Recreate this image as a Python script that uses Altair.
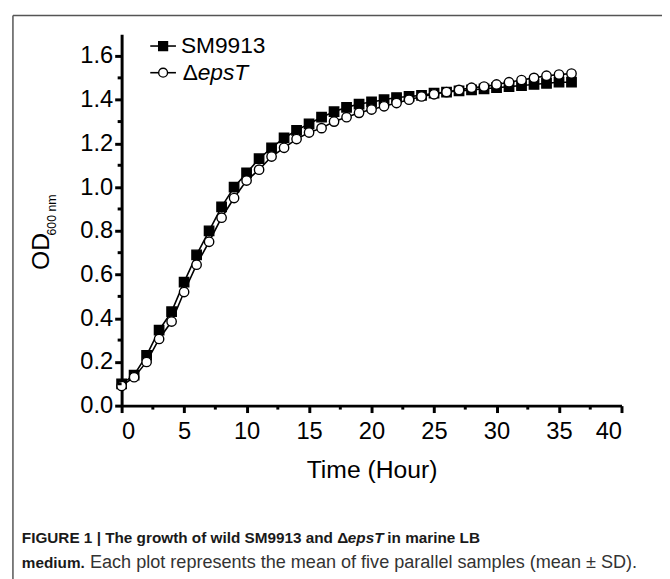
import altair as alt
import pandas as pd

# ---- data ----
hours = list(range(37))
sm9913 = [0.10, 0.14, 0.23, 0.345, 0.43, 0.565, 0.69, 0.80, 0.91, 1.00, 1.065, 1.13,
          1.18, 1.225, 1.26, 1.29, 1.32, 1.345, 1.365, 1.38, 1.39, 1.40, 1.41, 1.415,
          1.42, 1.43, 1.435, 1.44, 1.445, 1.45, 1.455, 1.46, 1.465, 1.47, 1.475, 1.48, 1.48]
eps_t = [0.09, 0.13, 0.20, 0.305, 0.385, 0.52, 0.645, 0.75, 0.86, 0.95, 1.03, 1.08,
         1.14, 1.18, 1.22, 1.25, 1.27, 1.30, 1.32, 1.34, 1.355, 1.37, 1.385, 1.40,
         1.415, 1.425, 1.435, 1.445, 1.455, 1.46, 1.47, 1.48, 1.49, 1.50, 1.51, 1.515, 1.52]
y_ticks = [0.0, 0.2, 0.4, 0.6, 0.8, 1.0, 1.2, 1.4, 1.6]
y_minor = [0.1, 0.3, 0.5, 0.7, 0.9, 1.1, 1.3, 1.5]
x_ticks = [0, 5, 10, 15, 20, 25, 30, 35, 40]
x_minor = [2.5, 7.5, 12.5, 17.5, 22.5, 27.5, 32.5, 37.5]

W, H = 506, 376
FONT = "Liberation Sans"

df_sm = pd.DataFrame({"Time": hours, "OD": sm9913})
df_ep = pd.DataFrame({"Time": hours, "OD": eps_t})

x_scale = alt.Scale(domain=[0, 40], nice=False, zero=False)
y_scale = alt.Scale(domain=[0, 1.7], nice=False)

x_axis = alt.Axis(values=x_ticks, title="Time (Hour)", format="d", labelPadding=7,
                  titlePadding=15, titleFontSize=25, titleFontWeight="normal")
y_axis = alt.Axis(values=y_ticks, format=".1f", title=None, labelPadding=2)

def series(df, shape, fill):
    base = alt.Chart(df).encode(
        x=alt.X("Time:Q", scale=x_scale, axis=x_axis),
        y=alt.Y("OD:Q", scale=y_scale, axis=y_axis),
    )
    line = base.mark_line(color="black", strokeWidth=1.6)
    pts = base.mark_point(shape=shape, filled=True, fill=fill, stroke="black",
                          strokeWidth=1.4, size=90, opacity=1)
    return line + pts

one = pd.DataFrame({"a": [0]})

# minor ticks
ymin_df = pd.DataFrame({"Time": [0] * len(y_minor), "OD": y_minor})
xmin_df = pd.DataFrame({"Time": x_minor, "OD": [0] * len(x_minor)})
y_minor_ticks = alt.Chart(ymin_df).mark_rule(color="black", strokeWidth=3).encode(
    y=alt.Y("OD:Q", scale=y_scale, axis=y_axis), x=alt.value(-4), x2=alt.value(0))
x_minor_ticks = alt.Chart(xmin_df).mark_rule(color="black", strokeWidth=3).encode(
    x=alt.X("Time:Q", scale=x_scale, axis=x_axis), y=alt.value(H), y2=alt.value(H + 4))

# legend
def leg_row(y, shape, fill):
    ln = alt.Chart(one).mark_rule(color="black", strokeWidth=1.6).encode(
        x=alt.value(29), x2=alt.value(55), y=alt.value(y))
    pt = alt.Chart(one).mark_point(shape=shape, filled=True, fill=fill, stroke="black",
                                   strokeWidth=1.4, size=80, opacity=1).encode(
        x=alt.value(42), y=alt.value(y))
    return ln + pt

leg_t1 = alt.Chart(one).mark_text(align="left", baseline="middle", font=FONT, fontSize=23,
                                  color="black").encode(
    x=alt.value(60), y=alt.value(12), text=alt.value("SM9913"))
leg_t2a = alt.Chart(one).mark_text(align="left", baseline="middle", font=FONT, fontSize=23,
                                   color="black").encode(
    x=alt.value(62), y=alt.value(39), text=alt.value("Δ"))
leg_t2b = alt.Chart(one).mark_text(align="left", baseline="middle", font=FONT, fontSize=23,
                                   fontStyle="italic", color="black").encode(
    x=alt.value(77), y=alt.value(39), text=alt.value("epsT"))

# y title with subscript
od = alt.Chart(one).mark_text(align="center", baseline="middle", angle=270, font=FONT,
                              fontSize=25, color="black").encode(
    x=alt.value(-82), y=alt.value(220), text=alt.value("OD"))
od_sub = alt.Chart(one).mark_text(align="center", baseline="middle", angle=270, font=FONT,
                                  fontSize=12.5, color="black").encode(
    x=alt.value(-70), y=alt.value(183), text=alt.value("600 nm"))

# frame lines
frame_top = alt.Chart(one).mark_rule(color="#555555", strokeWidth=1.5).encode(
    x=alt.value(-110), x2=alt.value(700), y=alt.value(-19))
frame_left = alt.Chart(one).mark_rule(color="#555555", strokeWidth=1.5).encode(
    x=alt.value(-110), y=alt.value(-19), y2=alt.value(600))

# caption
def cap(txt, x, y, weight="normal", style="normal", size=15.5, color="#1a1a1a"):
    return alt.Chart(one).mark_text(align="left", baseline="middle", font=FONT, fontSize=size,
                                    fontWeight=weight, fontStyle=style, color=color).encode(
        x=alt.value(x), y=alt.value(y), text=alt.value(txt))

cap1 = cap("FIGURE 1 | The growth of wild SM9913 and Δ", -101, 510, "bold")
cap2 = cap("epsT", 229, 510, "bold", "italic")
cap3 = cap("in marine LB", 269, 510, "bold")
cap4 = cap("medium.", -101, 535, "bold")
cap5 = cap("Each plot represents the mean of five parallel samples (mean ± SD).", -32, 535,
           size=18.3, color="#333333")

chart = alt.layer(
    series(df_sm, "square", "black"),
    series(df_ep, "circle", "white"),
    y_minor_ticks, x_minor_ticks,
    leg_row(12, "square", "black"), leg_row(39, "circle", "white"),
    leg_t1, leg_t2a, leg_t2b, od, od_sub, frame_top, frame_left,
    cap1, cap2, cap3, cap4, cap5,
).properties(
    width=W, height=H,
    autosize=alt.AutoSizeParams(type="none"),
    padding={"left": 115, "top": 23, "right": 41, "bottom": 172},
).configure_view(stroke=None).configure_axis(
    domainColor="black", domainWidth=3, tickColor="black", tickWidth=3, tickSize=7,
    labelFont=FONT, labelFontSize=24, labelColor="black", titleFont=FONT,
    titleColor="black", grid=False,
)

chart.save("out.html", embed_options={"renderer": "svg", "actions": False})
